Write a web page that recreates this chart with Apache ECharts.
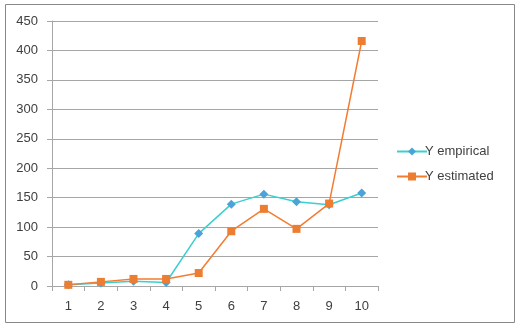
<!DOCTYPE html>
<html>
<head>
<meta charset="utf-8">
<script src="https://cdn.jsdelivr.net/npm/echarts@6/dist/echarts.min.js"></script>
<style>html,body{margin:0;padding:0;background:#fff}#c{width:523px;height:330px}</style>
</head>
<body>
<div id="c"></div>
<script>
var categories = ['1','2','3','4','5','6','7','8','9','10'];
var yEmpirical = [2, 5, 8, 6, 89, 139, 156, 143, 138, 158];
var yEstimated = [2, 7, 12, 12, 22, 93, 131, 97, 140, 416];
var yTicks = {min: 0, max: 450, interval: 50};

var chart = echarts.init(document.getElementById('c'));
var font = 'Liberation Sans';
chart.setOption({
  animation: false,
  textStyle: {fontFamily: font},
  graphic: [{
    type: 'rect', shape: {x: 5.5, y: 4.5, width: 509, height: 318}, 
    style: {fill: 'none', stroke: '#888', lineWidth: 1}, z: -1
  }],
  grid: {left: 52, right: 145, top: 21, bottom: 44, containLabel: false},
  legend: {
    orient: 'vertical', left: 391, top: 140, itemGap: 12,
    itemWidth: 30, itemHeight: 10,
    textStyle: {fontFamily: font, fontSize: 13, color: '#404040', padding: [0,0,0,-7]},
    data: ['Y empirical', 'Y estimated']
  },
  xAxis: {
    type: 'category', data: categories, boundaryGap: true,
    axisLine: {lineStyle: {color: '#a6a6a6'}},
    axisTick: {show: true, length: 5, lineStyle: {color: '#a6a6a6'}},
    axisLabel: {fontSize: 13, color: '#404040', margin: 14, fontFamily: font}
  },
  yAxis: {
    type: 'value', min: yTicks.min, max: yTicks.max, interval: yTicks.interval,
    axisLine: {show: true, lineStyle: {color: '#a6a6a6'}},
    axisTick: {show: true, length: 5, lineStyle: {color: '#a6a6a6'}},
    splitLine: {lineStyle: {color: '#a6a6a6'}},
    axisLabel: {fontSize: 13, color: '#404040', margin: 14, fontFamily: font}
  },
  series: [{
    name: 'Y empirical', type: 'line', data: yEmpirical,
    symbol: 'diamond', symbolSize: 9,
    lineStyle: {color: '#3ccfcf', width: 1.5},
    itemStyle: {color: '#4ba3d8', borderWidth: 0}
  }, {
    name: 'Y estimated', type: 'line', data: yEstimated,
    symbol: 'rect', symbolSize: 8,
    lineStyle: {color: '#f47c30', width: 1.5},
    itemStyle: {color: '#ed7d31', borderWidth: 0}
  }]
});
</script>
</body>
</html>
